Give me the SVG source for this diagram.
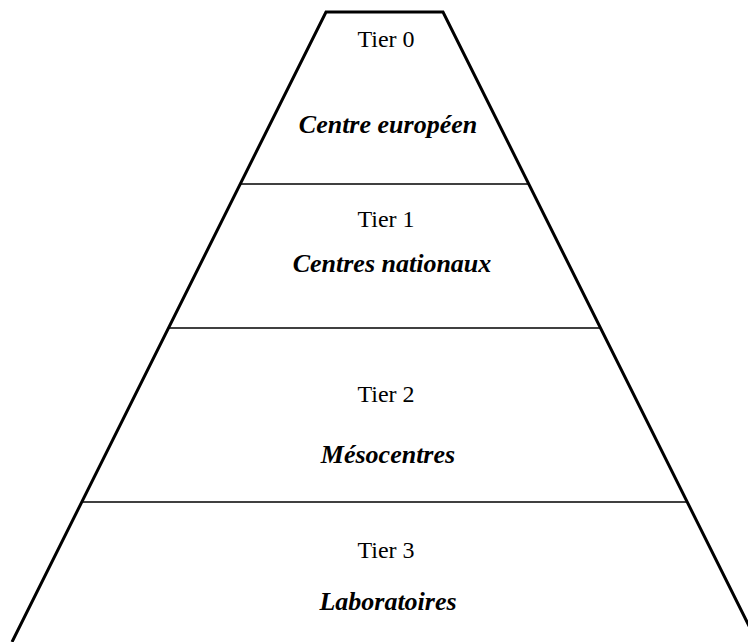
<svg xmlns="http://www.w3.org/2000/svg" width="748" height="642" viewBox="0 0 748 642">
<style>
.edge{fill:none;stroke:#000;stroke-width:3;stroke-linejoin:miter}
.div{stroke:#000;stroke-width:1.6}
.tier{font-family:"Liberation Serif","Times New Roman",serif;font-size:24px;fill:#000;text-anchor:middle}
.name{font-family:"Liberation Serif","Times New Roman",serif;font-size:26px;font-weight:bold;font-style:italic;fill:#000;text-anchor:middle}
</style>
<rect width="748" height="642" fill="#fff"/>
<g id="connectors">
<path class="edge" d="M12,642 L326,12 L443,12 L757,642"/>
<line class="div" x1="240.3" y1="184" x2="528.7" y2="184"/>
<line class="div" x1="168.5" y1="328" x2="600.5" y2="328"/>
<line class="div" x1="81.8" y1="502" x2="687.2" y2="502"/>
</g>
<g id="tier0">
<text class="tier" x="386" y="47">Tier 0</text>
<text class="name" x="388" y="133">Centre européen</text>
</g>
<g id="tier1">
<text class="tier" x="386" y="227">Tier 1</text>
<text class="name" x="392" y="272">Centres nationaux</text>
</g>
<g id="tier2">
<text class="tier" x="386" y="402">Tier 2</text>
<text class="name" x="388" y="463">Mésocentres</text>
</g>
<g id="tier3">
<text class="tier" x="386" y="558">Tier 3</text>
<text class="name" x="388" y="610">Laboratoires</text>
</g>
</svg>
